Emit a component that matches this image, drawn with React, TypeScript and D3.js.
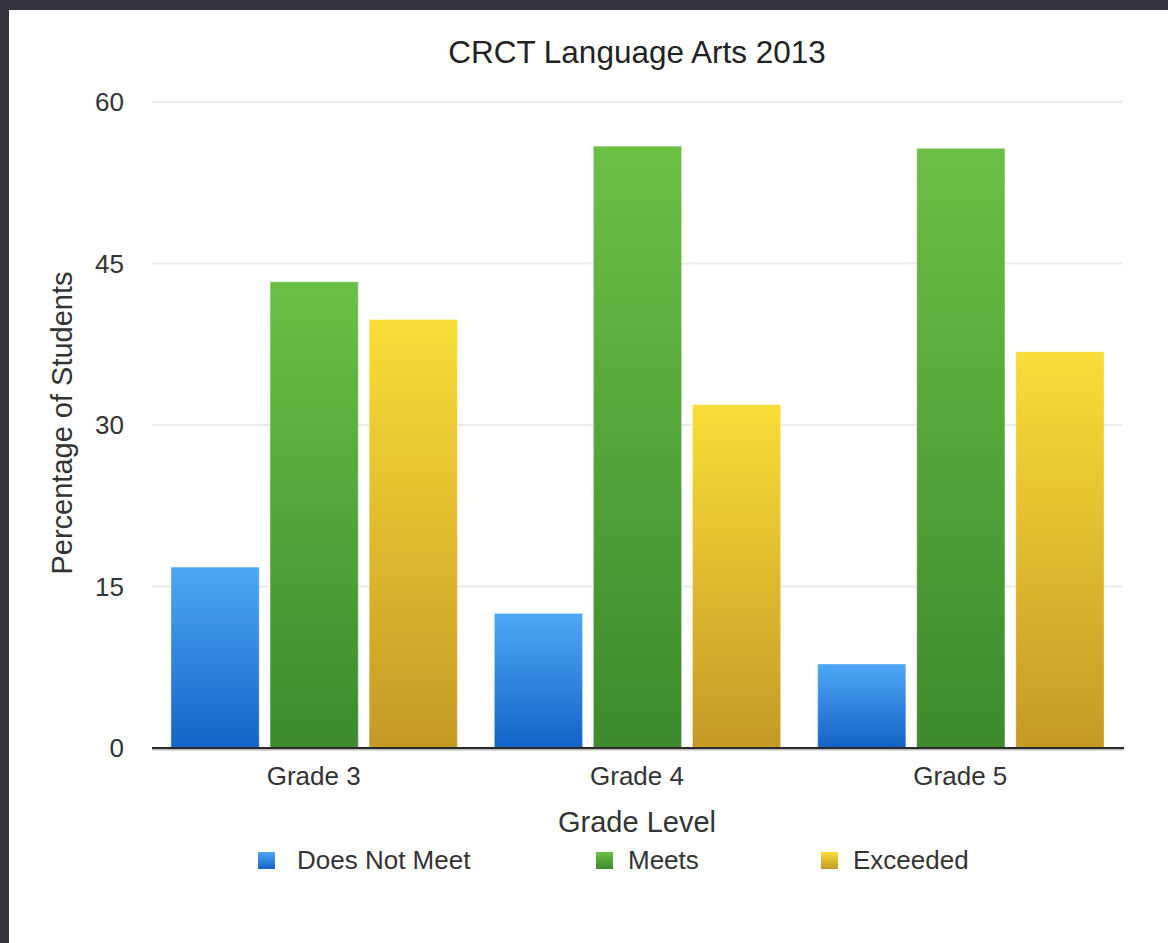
import * as d3 from 'd3';

const grades = ['Grade 3', 'Grade 4', 'Grade 5'];
const seriesNames = ['Does Not Meet', 'Meets', 'Exceeded'];
const doesNotMeet = [16.8, 12.5, 7.8];
const meets = [43.3, 55.9, 55.7];
const exceeded = [39.8, 31.9, 36.8];
const yTicks = [0, 15, 30, 45, 60];

const seriesValues = [doesNotMeet, meets, exceeded];
const gradients = [
  { id: 'gBlue', top: '#4fa7f7', bottom: '#1463c7' },
  { id: 'gGreen', top: '#6cbf45', bottom: '#3e8a2d' },
  { id: 'gYellow', top: '#f9dd37', bottom: '#c49a25' },
];

export default function App() {
  const width = 1168;
  const height = 943;
  const margin = { top: 102, right: 46, bottom: 195, left: 152 };
  const innerW = width - margin.left - margin.right;
  const innerH = height - margin.top - margin.bottom;
  const font = '"Liberation Sans", Arial, Helvetica, sans-serif';

  const y = d3.scaleLinear().domain([0, 60]).range([innerH, 0]);
  const x0 = d3.scaleBand().domain(grades).range([0, innerW]);
  const x1 = d3
    .scaleBand()
    .domain(seriesNames)
    .range([19, x0.bandwidth() - 18])
    .paddingInner(0.11);

  // legend positions (square x, text x)
  const legendSq = [258, 596, 821];
  const legendTx = [297, 628, 853];

  return (
    <svg
      width={width}
      height={height}
      style={{ position: 'absolute', left: 0, top: 0, display: 'block' }}
    >
      <defs>
        {gradients.map((g) => (
          <linearGradient key={g.id} id={g.id} x1="0" y1="0" x2="0" y2="1">
            <stop offset="0%" stopColor={g.top} />
            <stop offset="100%" stopColor={g.bottom} />
          </linearGradient>
        ))}
      </defs>
      {/* frame */}
      <rect x={0} y={0} width={width} height={height} fill="#33333f" />
      <rect x={9} y={10} width={width - 9} height={height - 10} fill="#ffffff" />

      <text
        x={637}
        y={63}
        textAnchor="middle"
        fontFamily={font}
        fontSize={31.5}
        fill="#222"
      >
        CRCT Language Arts 2013
      </text>

      <g transform={`translate(${margin.left},${margin.top})`}>
        {/* gridlines */}
        {yTicks.slice(1).map((t) => (
          <line
            key={t}
            x1={0}
            x2={innerW}
            y1={y(t)}
            y2={y(t)}
            stroke="#ebebeb"
            strokeWidth={2}
          />
        ))}
        {yTicks.map((t) => (
          <text
            key={'yt' + t}
            x={-28}
            y={y(t) + 9}
            textAnchor="end"
            fontFamily={font}
            fontSize={26}
            fill="#333"
          >
            {t}
          </text>
        ))}

        {/* bars */}
        {grades.map((g, gi) => (
          <g key={g} transform={`translate(${x0(g)},0)`}>
            {seriesNames.map((s, si) => {
              const v = seriesValues[si][gi];
              return (
                <rect
                  key={s}
                  x={x1(s)}
                  y={y(v)}
                  width={x1.bandwidth()}
                  height={innerH - y(v)}
                  fill={`url(#${gradients[si].id})`}
                  stroke="#ffffff"
                  strokeOpacity={0.35}
                  strokeWidth={1}
                />
              );
            })}
            <text
              x={x0.bandwidth() / 2}
              y={innerH + 37}
              textAnchor="middle"
              fontFamily={font}
              fontSize={26}
              fill="#333"
            >
              {g}
            </text>
          </g>
        ))}

        {/* baseline */}
        <line
          x1={0}
          x2={innerW + 2}
          y1={innerH + 1.5}
          y2={innerH + 1.5}
          stroke="#bbb"
          strokeWidth={2}
        />
        <line x1={0} x2={innerW + 2} y1={innerH} y2={innerH} stroke="#2b2b2b" strokeWidth={2} />

        <text
          transform={`translate(${72 - margin.left},${423 - margin.top}) rotate(-90)`}
          textAnchor="middle"
          fontFamily={font}
          fontSize={29}
          fill="#333"
        >
          Percentage of Students
        </text>
      </g>

      <text
        x={637}
        y={832}
        textAnchor="middle"
        fontFamily={font}
        fontSize={29}
        fill="#333"
      >
        Grade Level
      </text>

      {/* legend */}
      {seriesNames.map((s, i) => (
        <g key={'lg' + s}>
          <rect
            x={legendSq[i]}
            y={852}
            width={17}
            height={17}
            fill={`url(#${gradients[i].id})`}
          />
          <text
            x={legendTx[i]}
            y={869}
            fontFamily={font}
            fontSize={26}
            fill="#333"
          >
            {s}
          </text>
        </g>
      ))}
    </svg>
  );
}
